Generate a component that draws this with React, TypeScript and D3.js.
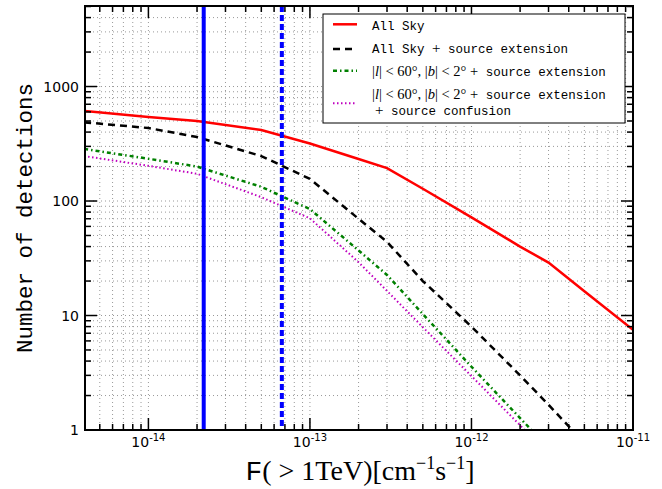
import * as d3 from "d3";

// flux thresholds, F(>1TeV) [cm^-1 s^-1]
const flux = [4e-15, 1e-14, 2e-14, 5e-14, 1e-13, 2e-13, 3e-13, 5e-13, 1e-12, 2e-12, 3e-12, 5e-12, 1e-11];

// number of detections per curve
const allSky = [611, 542, 500, 417, 318, 233, 194, 128, 72, 40, 29, 16.3, 7.5];
const allSkyExt = [487, 434, 362, 247, 156, 70, 44, 20, 8, 3, 1.66, 0.77, 0.27];
const planeExt = [285, 234, 200, 133, 85, 37, 22.6, 10.3, 3.57, 1.27, 0.7, 0.3, 0.1];
const planeExtConf = [247, 203, 173, 108, 70.6, 29.2, 16.4, 7.9, 2.96, 1.1, 0.6, 0.25, 0.08];

// sensitivity markers
const sensSolid = 2.2e-14;
const sensDashed = 6.7e-14;

const xMajor = [-14, -13, -12, -11];
const yMajor = [1, 10, 100, 1000];

const width = 662;
const height = 489;
const marginLeft = 85;
const marginRight = 29;
const marginTop = 6;
const marginBottom = 59;

const mono = "'Liberation Mono', 'DejaVu Sans Mono', monospace";
const serif = "'Liberation Serif', 'DejaVu Serif', serif";
const sans = "'DejaVu Sans', sans-serif";

export default function App() {
  const x = d3.scaleLog().domain([4.05e-15, 1e-11]).range([marginLeft, width - marginRight]);
  const y = d3.scaleLog().domain([1, 5050]).range([height - marginBottom, marginTop]);
  const [x0, x1] = x.range();
  const [y0, y1] = y.range();

  const xMinor: number[] = [];
  for (let e = -15; e <= -12; e++) {
    for (let m = 2; m <= 9; m++) {
      const v = m * Math.pow(10, e);
      if (v >= x.domain()[0] && v <= x.domain()[1]) xMinor.push(v);
    }
  }
  const yMinor: number[] = [];
  for (let e = 0; e <= 3; e++) {
    for (let m = 2; m <= 9; m++) {
      const v = m * Math.pow(10, e);
      if (v <= y.domain()[1]) yMinor.push(v);
    }
  }
  const xAll = [...xMajor.map((e) => Math.pow(10, e)), ...xMinor];
  const yAll = [...yMajor, ...yMinor];

  const line = d3
    .line<number>()
    .x((_, i) => x(flux[i]))
    .y((d) => y(Math.max(d, 0.05)));

  const series = [
    { values: allSky, color: "#ff0000", dash: "none", w: 2.5 },
    { values: allSkyExt, color: "#000000", dash: "7,5", w: 2.5 },
    { values: planeExt, color: "#008000", dash: "4,3,1.5,3", w: 2.5 },
    { values: planeExtConf, color: "#bf00bf", dash: "1.5,2.5", w: 2 },
  ];

  const gridStyle = { stroke: "#999", strokeWidth: 1, strokeDasharray: "1,3" };

  return (
    <svg width={width} height={height} style={{ position: "absolute", left: 0, top: 0, background: "#fff" }}>
      <defs>
        <clipPath id="plot">
          <rect x={x0} y={y1} width={x1 - x0} height={y0 - y1} />
        </clipPath>
      </defs>
      <rect width={width} height={height} fill="#fff" />

      {/* grid */}
      <g>
        {xAll.map((v, i) => (
          <line key={"gx" + i} x1={x(v)} x2={x(v)} y1={y1} y2={y0} {...gridStyle} />
        ))}
        {yAll.map((v, i) => (
          <line key={"gy" + i} x1={x0} x2={x1} y1={y(v)} y2={y(v)} {...gridStyle} />
        ))}
      </g>

      {/* curves */}
      <g clipPath="url(#plot)">
        {series.map((s, i) => (
          <path
            key={i}
            d={line(s.values) ?? ""}
            fill="none"
            stroke={s.color}
            strokeWidth={s.w}
            strokeDasharray={s.dash}
          />
        ))}
        <line x1={x(sensSolid)} x2={x(sensSolid)} y1={y1} y2={y0} stroke="#0000ff" strokeWidth={4} />
        <line
          x1={x(sensDashed)}
          x2={x(sensDashed)}
          y1={y1}
          y2={y0}
          stroke="#0000ff"
          strokeWidth={4}
          strokeDasharray="6,3"
        />
      </g>

      {/* ticks on all four sides, inward */}
      <g stroke="#000" strokeWidth={1.5}>
        {xMajor.map((e) => {
          const px = x(Math.pow(10, e));
          return (
            <g key={"xt" + e}>
              <line x1={px} x2={px} y1={y0} y2={y0 - 12} />
              <line x1={px} x2={px} y1={y1} y2={y1 + 12} />
            </g>
          );
        })}
        {xMinor.map((v, i) => (
          <g key={"xm" + i}>
            <line x1={x(v)} x2={x(v)} y1={y0} y2={y0 - 6} />
            <line x1={x(v)} x2={x(v)} y1={y1} y2={y1 + 6} />
          </g>
        ))}
        {yMajor.map((v) => (
          <g key={"yt" + v}>
            <line x1={x0} x2={x0 + 12} y1={y(v)} y2={y(v)} />
            <line x1={x1} x2={x1 - 12} y1={y(v)} y2={y(v)} />
          </g>
        ))}
        {yMinor.map((v, i) => (
          <g key={"ym" + i}>
            <line x1={x0} x2={x0 + 6} y1={y(v)} y2={y(v)} />
            <line x1={x1} x2={x1 - 6} y1={y(v)} y2={y(v)} />
          </g>
        ))}
      </g>

      {/* frame */}
      <rect x={x0} y={y1} width={x1 - x0} height={y0 - y1} fill="none" stroke="#000" strokeWidth={2} />

      {/* tick labels */}
      <g fontFamily={sans} fontSize={14} fill="#000">
        {yMajor.map((v) => (
          <text key={"yl" + v} x={x0 - 6} y={y(v)} dy="0.36em" textAnchor="end">
            {v}
          </text>
        ))}
        {xMajor.map((e) => (
          <text key={"xl" + e} x={x(Math.pow(10, e))} y={y0 + 17} textAnchor="middle">
            10
            <tspan fontSize={10} dy={-6}>
              {e}
            </tspan>
          </text>
        ))}
      </g>

      {/* axis titles */}
      <text
        transform={`translate(32,${(y0 + y1) / 2}) rotate(-90)`}
        textAnchor="middle"
        fontFamily={mono}
        fontSize={22.5}
        fill="#000"
      >
        Number of detections
      </text>
      <text x={(x0 + x1) / 2 + 1} y={480} textAnchor="middle" fontFamily={serif} fontSize={28} fill="#000">
        <tspan fontFamily={mono}>F</tspan>( &gt; 1TeV)[cm
        <tspan fontSize={18} dy={-11}>−1</tspan>
        <tspan dy={11}>s</tspan>
        <tspan fontSize={18} dy={-11}>−1</tspan>
        <tspan dy={11}>]</tspan>
      </text>

      {/* legend */}
      <g>
        <rect x={323} y={14} width={302} height={109} fill="#fff" stroke="#000" strokeWidth={1} />
        {[24.3, 49, 70.7, 103.3].map((ly, i) => (
          <line
            key={"ll" + i}
            x1={333}
            x2={357}
            y1={ly}
            y2={ly}
            stroke={series[i].color}
            strokeWidth={series[i].w}
            strokeDasharray={series[i].dash}
          />
        ))}
        <g fontFamily={mono} fontSize={12.5} fill="#000">
          <text x={372} y={30}>
            All Sky
          </text>
          <text x={372} y={53}>
            All Sky <tspan fontFamily={serif} fontSize={15}>+</tspan> source extension
          </text>
          <text x={372} y={76}>
            <tspan fontFamily={serif} fontSize={14.5}>
              |<tspan fontStyle="italic">l</tspan>| &lt; 60°, |<tspan fontStyle="italic">b</tspan>| &lt; 2° +
            </tspan>{" "}
            source extension
          </text>
          <text x={372} y={99}>
            <tspan fontFamily={serif} fontSize={14.5}>
              |<tspan fontStyle="italic">l</tspan>| &lt; 60°, |<tspan fontStyle="italic">b</tspan>| &lt; 2° +
            </tspan>{" "}
            source extension
          </text>
          <text x={375} y={115}>
            <tspan fontFamily={serif} fontSize={15}>+</tspan> source confusion
          </text>
        </g>
      </g>
    </svg>
  );
}
